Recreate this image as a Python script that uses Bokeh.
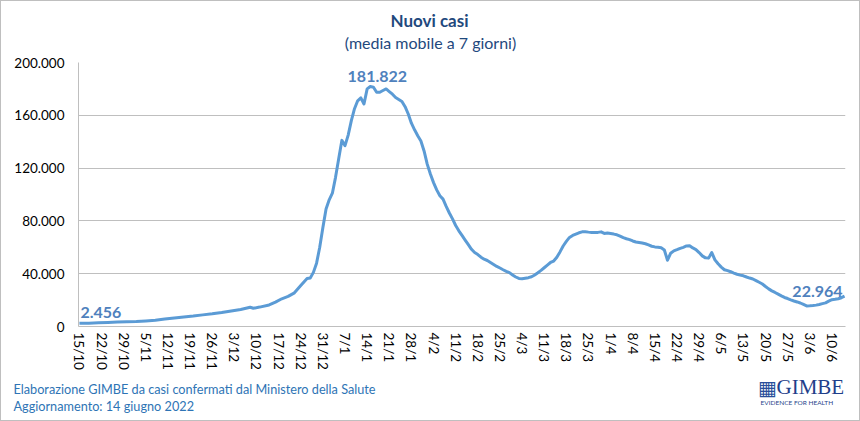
import math
from bokeh.plotting import figure
from bokeh.layouts import column
from bokeh.models import Range1d, FixedTicker, Label
from bokeh.core.properties import value
from bokeh.embed import file_html
from bokeh.resources import INLINE

# ---- data (7-day moving average of new cases, day offsets from 15/10/2021) ----
day_offsets = [0, 3, 6, 9, 12, 15, 18, 21, 24, 27, 30, 33, 36, 39, 42, 45, 48, 51, 54, 55,
               57, 60, 62, 64, 66, 68, 70, 72, 73, 74, 75, 76, 77, 78, 79, 80, 81, 82, 83, 84,
               85, 86, 87, 88, 89, 90, 91, 92, 93, 94, 95, 96, 97, 98, 99, 100, 101, 102, 103, 104,
               105, 106, 107, 108, 109, 110, 111, 112, 113, 114, 115, 116, 117, 118, 119, 120, 121, 122, 123, 124,
               125, 126, 127, 128, 129, 130, 131, 132, 133, 134, 135, 136, 137, 138, 139, 140, 141, 142, 143, 144,
               145, 146, 147, 148, 149, 150, 151, 152, 153, 154, 155, 156, 157, 158, 159, 160, 161, 162, 163, 164,
               165, 166, 167, 168, 169, 170, 171, 172, 173, 174, 175, 176, 177, 178, 179, 180, 181, 182, 183, 184,
               185, 186, 187, 188, 189, 190, 191, 192, 193, 194, 195, 196, 197, 198, 199, 200, 201, 202, 203, 204,
               205, 206, 207, 208, 209, 210, 211, 212, 213, 214, 215, 216, 217, 218, 219, 220, 221, 222, 223, 224,
               225, 226, 227, 228, 229, 230, 231, 232, 233, 234, 235, 236, 237, 238, 239, 240, 241, 242]
cases = [2456, 2550, 2800, 3100, 3350, 3600, 3800, 4200, 4700, 5600, 6500, 7200, 7900, 8800, 9600, 10600, 11800, 12900, 14600, 13800,
         14700, 16300, 18500, 21000, 22800, 25500, 31000, 36300, 36800, 41000, 48000, 60000, 75000, 89000, 96000, 101000, 113000, 127000, 141000, 137000,
         145000, 156000, 165000, 171000, 173200, 168600, 180000, 181822, 181300, 177500, 177500, 178800, 180000, 178000, 176000, 173500, 172000, 170500, 166500, 161000,
         154000, 149000, 144500, 140500, 133000, 123000, 115500, 109000, 103500, 99000, 96500, 91000, 86000, 81500, 76500, 72500, 69000, 65500, 62000, 58500,
         56000, 54500, 52500, 51000, 50000, 48500, 47000, 45500, 44300, 43000, 41800, 40800, 39000, 37500, 36400, 36200, 36600, 37000, 37700, 39000,
         40700, 42500, 44500, 46500, 48500, 49600, 52500, 56500, 61000, 64500, 67500, 69000, 70000, 71000, 71700, 71800, 71500, 71300, 71200, 71300,
         71700, 70500, 70800, 70400, 70000, 69500, 68500, 67300, 66500, 65800, 64800, 64000, 63600, 63200, 62700, 61800, 60800, 60300, 60000, 59600,
         58000, 50200, 55500, 57300, 58200, 59200, 60000, 61000, 61200, 59500, 58300, 56000, 53500, 52000, 51800, 56000, 50500, 47500, 45000, 43000,
         42300, 41500, 40500, 39600, 38900, 38400, 37500, 36700, 36000, 34800, 33500, 32200, 30300, 28500, 27000, 25800, 24500, 23200, 22000, 21200,
         20200, 19300, 18600, 17800, 16700, 15600, 15700, 15900, 16200, 16700, 17300, 17900, 19200, 20300, 20600, 21000, 21800, 22964]

x_tick_days = list(range(0, 239, 7))
x_tick_labels = ["15/10", "22/10", "29/10", "5/11", "12/11", "19/11", "26/11", "3/12", "10/12", "17/12",
                 "24/12", "31/12", "7/1", "14/1", "21/1", "28/1", "4/2", "11/2", "18/2", "25/2",
                 "4/3", "11/3", "18/3", "25/3", "1/4", "8/4", "15/4", "22/4", "29/4", "6/5",
                 "13/5", "20/5", "27/5", "3/6", "10/6"]
y_ticks = [0, 40000, 80000, 120000, 160000, 200000]
y_tick_labels = ["0", "40.000", "80.000", "120.000", "160.000", "200.000"]

title_text = "Nuovi casi"
subtitle_text = "(media mobile a 7 giorni)"
footer1 = "Elaborazione GIMBE da casi confermati dal Ministero della Salute"
footer2 = "Aggiornamento: 14 giugno 2022"
logo_text = "GIMBE"
logo_tagline = "EVIDENCE FOR HEALTH"


def it_fmt(v):
    return f"{v:,}".replace(",", ".")


FONT = "Lato"
LINE_COLOR = "#5B9BD5"
LABEL_COLOR = "#4F81BD"
NAVY = "#1F497D"
FOOT_BLUE = "#2E74B5"
LOGO_BLUE = "#1F3F8A"
W = 858
HEAD_H = 53
MAIN_H = 322
FOOT_H = 44


def blank_fig(h):
    f = figure(width=W, height=h, output_backend="svg", toolbar_location=None,
               x_range=Range1d(0, W), y_range=Range1d(h, 0),
               x_axis_type=None, y_axis_type=None,
               min_border_left=0, min_border_right=0, min_border_top=0, min_border_bottom=0)
    f.frame_align = False
    f.outline_line_color = None
    f.xgrid.visible = False
    f.ygrid.visible = False
    f.background_fill_color = "white"
    f.border_fill_color = "white"
    return f


# ---- header ----
head = blank_fig(HEAD_H)
head.text(x=[428], y=[19], text=[title_text], text_align="center", text_baseline="middle",
          text_font=value(FONT), text_font_style="bold", text_font_size="17px", text_color=NAVY)
head.text(x=[429], y=[41], text=[subtitle_text], text_align="center", text_baseline="middle",
          text_font=value(FONT), text_font_size="16px", text_color=NAVY)

# ---- main chart ----
p = figure(width=W, height=MAIN_H, output_backend="svg", toolbar_location=None,
           x_range=Range1d(-0.3, 242.3), y_range=Range1d(0, 200000),
           min_border_left=77, min_border_right=14, min_border_top=8, min_border_bottom=50)
p.frame_align = False
p.outline_line_color = None
p.background_fill_color = "white"
p.border_fill_color = "white"

p.line(day_offsets, cases, line_color=LINE_COLOR, line_width=3, line_join="round")

p.xaxis.ticker = FixedTicker(ticks=x_tick_days)
p.xaxis.major_label_overrides = {d: lab for d, lab in zip(x_tick_days, x_tick_labels)}
p.xaxis.major_label_orientation = -math.pi / 2
p.xaxis.major_tick_line_color = None
p.xaxis.major_tick_out = 0
p.xaxis.major_tick_in = 0
p.xaxis.minor_tick_line_color = None
p.xaxis.axis_line_color = "#BFBFBF"
p.xaxis.major_label_standoff = 6
p.xaxis.major_label_text_font = FONT
p.xaxis.major_label_text_font_size = "13.5px"
p.xaxis.major_label_text_color = "#000000"

p.yaxis.ticker = FixedTicker(ticks=y_ticks)
p.yaxis.major_label_overrides = {t: lab for t, lab in zip(y_ticks, y_tick_labels)}
p.yaxis.major_tick_line_color = None
p.yaxis.major_tick_out = 0
p.yaxis.major_tick_in = 0
p.yaxis.minor_tick_line_color = None
p.yaxis.axis_line_color = "#BFBFBF"
p.yaxis.major_label_standoff = 14
p.yaxis.major_label_text_font = FONT
p.yaxis.major_label_text_font_size = "13.5px"
p.yaxis.major_label_text_color = "#000000"

p.xgrid.grid_line_color = None
p.ygrid.grid_line_color = "#BFBFBF"
p.ygrid.grid_line_width = 1

imax = cases.index(max(cases))
p.add_layout(Label(x=day_offsets[0], y=cases[0], text=it_fmt(cases[0]), x_offset=1, y_offset=5,
                   text_align="left", text_baseline="bottom", text_font=FONT, text_font_style="bold",
                   text_font_size="16px", text_color=LABEL_COLOR))
p.add_layout(Label(x=day_offsets[imax], y=cases[imax], text=it_fmt(cases[imax]), x_offset=7, y_offset=4,
                   text_align="center", text_baseline="bottom", text_font=FONT, text_font_style="bold",
                   text_font_size="16px", text_color=LABEL_COLOR))
p.add_layout(Label(x=day_offsets[-1], y=cases[-1], text=it_fmt(cases[-1]), x_offset=-2, y_offset=-1,
                   text_align="right", text_baseline="bottom", text_font=FONT, text_font_style="bold",
                   text_font_size="16px", text_color=LABEL_COLOR))

# ---- footer ----
foot = blank_fig(FOOT_H)
foot.text(x=[12, 12], y=[12, 29], text=[footer1, footer2], text_align="left", text_baseline="middle",
          text_font=value(FONT), text_font_size="12.7px", text_color=FOOT_BLUE)
foot.text(x=[766], y=[11], text=["\u25A6"], text_align="center", text_baseline="middle",
          text_font=value("DejaVu Sans"), text_font_size="20px", text_color="#2A4F9A")
foot.text(x=[775], y=[10], text=[logo_text], text_align="left", text_baseline="middle",
          text_font=value("Liberation Serif"), text_font_size="21px", text_color=LOGO_BLUE)
foot.text(x=[759], y=[26], text=[logo_tagline], text_align="left", text_baseline="middle",
          text_font=value(FONT), text_font_size="6.5px", text_color=LOGO_BLUE)

layout = column(head, p, foot, spacing=0)
layout.styles = {"border": "1px solid #BFBFBF"}

open("out.html", "w").write(file_html(layout, INLINE))
